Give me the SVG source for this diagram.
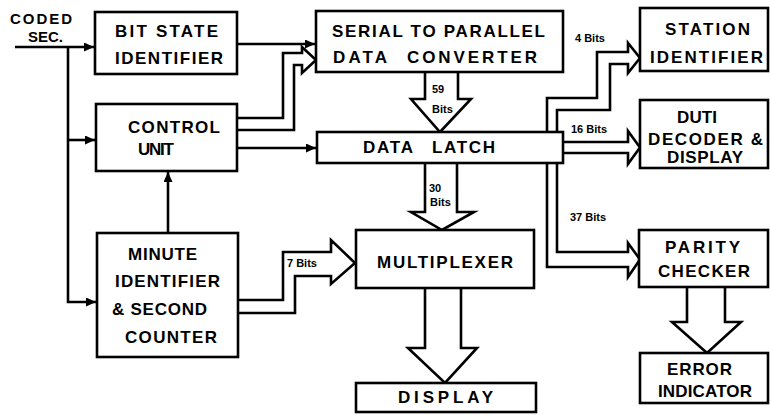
<svg xmlns="http://www.w3.org/2000/svg" width="770" height="415" viewBox="0 0 770 415">
  <style>
    .box { fill: #fff; stroke: #000; stroke-width: 2.6; }
    .wire { fill: none; stroke: #000; stroke-width: 2.6; }
    .bus { fill: #fff; stroke: #000; stroke-width: 2.6; stroke-linejoin: miter; }
    .lbl { font-family: "Liberation Sans", Arial, sans-serif; font-weight: 700; font-size: 17px; fill: #000; }
    .in { font-family: "Liberation Sans", Arial, sans-serif; font-weight: 700; font-size: 15px; fill: #000; }
    .bits { font-family: "Liberation Sans", Arial, sans-serif; font-weight: 700; font-size: 11px; fill: #000; }
  </style>
  <defs>
    <marker id="arrow" markerUnits="userSpaceOnUse" markerWidth="10" markerHeight="9" refX="10" refY="4.5" orient="auto">
      <path d="M0,0 L10,4.5 L0,9 z" fill="#000"/>
    </marker>
  </defs>

  <!-- connectors -->
  <g id="connectors">
    <!-- coded second input and its taps -->
    <path class="wire" d="M15,47 H94" marker-end="url(#arrow)"/>
    <path class="wire" d="M68,47 V302 H96" marker-end="url(#arrow)"/>
    <path class="wire" d="M68,140 H95" marker-end="url(#arrow)"/>
    <!-- minute identifier to control unit -->
    <path class="wire" d="M168,233 V172" marker-end="url(#arrow)"/>
    <!-- bit state identifier to converter -->
    <path class="wire" d="M237,44 H315" marker-end="url(#arrow)"/>
    <!-- control unit to data latch -->
    <path class="wire" d="M237,148 H316" marker-end="url(#arrow)"/>
    <!-- control unit to converter (wide bus) -->
    <path class="bus" d="M237,118 H283 V53 H302 V47 L316,60 L302,73 V65 H294 V130 H237"/>
    <!-- 59 bits: converter to latch -->
    <path class="bus" d="M425,72 V99 H411 L440,132 L471,99 H458 V72"/>
    <!-- 30 bits: latch to multiplexer -->
    <path class="bus" d="M425,163 V212 H411 L442,230 L474,212 H457 V163"/>
    <!-- multiplexer to display -->
    <path class="bus" d="M425,288 V348 H408 L445,383 L477,348 H461 V288"/>
    <!-- 7 bits: minute identifier to multiplexer -->
    <path class="bus" d="M238,300 H283 V252 H331 V240 L355,263 L331,284 V276 H295 V313 H238"/>
    <!-- 4 bits and 37 bits from latch -->
    <path class="bus" d="M557,132 V110 H610 V64 H628 V73 L640,58 L628,43 V52 H597 V98 H547 V267 H628 V277 L640,259.5 L628,243 V252 H557 V163"/>
    <!-- 16 bits from latch -->
    <path class="bus" d="M563,142 H628 V131 L640,147.5 L628,164 V153 H563"/>
    <!-- parity checker to error indicator -->
    <path class="bus" d="M687,287 V322 H672 L707,353 L741,322 H725 V287"/>
  </g>

  <text class="in" x="10" y="24" textLength="62">CODED</text>
  <text class="in" x="28" y="42" textLength="35">SEC.</text>

  <g id="bit-state-identifier">
    <rect class="box" x="95" y="12" width="142" height="62"/>
    <text class="lbl" x="115" y="37" textLength="103">BIT STATE</text>
    <text class="lbl" x="115" y="64" textLength="108">IDENTIFIER</text>
  </g>

  <g id="control-unit">
    <rect class="box" x="96" y="104" width="141" height="67"/>
    <text class="lbl" x="128" y="133" textLength="92">CONTROL</text>
    <text class="lbl" x="138" y="155" textLength="36">UNIT</text>
  </g>

  <g id="minute-identifier">
    <rect class="box" x="97" y="233" width="141" height="124"/>
    <text class="lbl" x="128" y="260" textLength="69">MINUTE</text>
    <text class="lbl" x="115" y="287" textLength="105">IDENTIFIER</text>
    <text class="lbl" x="112" y="315" textLength="95">&amp; SECOND</text>
    <text class="lbl" x="125" y="343" textLength="92">COUNTER</text>
  </g>

  <g id="serial-parallel-converter">
    <rect class="box" x="316" y="11" width="247" height="61"/>
    <text class="lbl" x="332" y="37" textLength="213">SERIAL TO PARALLEL</text>
    <text class="lbl" y="63"><tspan x="333" textLength="54">DATA</tspan><tspan x="407" textLength="130">CONVERTER</tspan></text>
  </g>

  <g id="data-latch">
    <rect class="box" x="317" y="132" width="246" height="31"/>
    <text class="lbl" y="153"><tspan x="363" textLength="50">DATA</tspan><tspan x="432" textLength="63">LATCH</tspan></text>
  </g>

  <g id="multiplexer">
    <rect class="box" x="356" y="230" width="178" height="58"/>
    <text class="lbl" x="377" y="268" textLength="136">MULTIPLEXER</text>
  </g>

  <g id="display">
    <rect class="box" x="356" y="383" width="180" height="29"/>
    <text class="lbl" x="398" y="403" textLength="95">DISPLAY</text>
  </g>

  <g id="station-identifier">
    <rect class="box" x="640" y="8" width="128" height="63"/>
    <text class="lbl" x="665" y="35" textLength="85">STATION</text>
    <text class="lbl" x="650" y="63" textLength="113">IDENTIFIER</text>
  </g>

  <g id="duti-decoder">
    <rect class="box" x="640" y="100" width="128" height="68"/>
    <text class="lbl" x="677" y="123" textLength="40">DUTI</text>
    <text class="lbl" x="648" y="145" textLength="115">DECODER &amp;</text>
    <text class="lbl" x="667" y="163" textLength="76">DISPLAY</text>
  </g>

  <g id="parity-checker">
    <rect class="box" x="639" y="230" width="129" height="57"/>
    <text class="lbl" x="665" y="253" textLength="75">PARITY</text>
    <text class="lbl" x="658" y="277" textLength="92">CHECKER</text>
  </g>

  <g id="error-indicator">
    <rect class="box" x="640" y="353" width="128" height="50"/>
    <text class="lbl" x="667" y="375" textLength="65">ERROR</text>
    <text class="lbl" x="658" y="397" textLength="94">INDICATOR</text>
  </g>

  <!-- bus widths -->
  <text class="bits" x="432" y="93">59</text>
  <text class="bits" x="432" y="113">Bits</text>
  <text class="bits" x="429" y="192">30</text>
  <text class="bits" x="430" y="206">Bits</text>
  <text class="bits" x="575" y="42">4 Bits</text>
  <text class="bits" x="571" y="133">16 Bits</text>
  <text class="bits" x="570" y="221">37 Bits</text>
  <text class="bits" x="287" y="267">7 Bits</text>
</svg>
